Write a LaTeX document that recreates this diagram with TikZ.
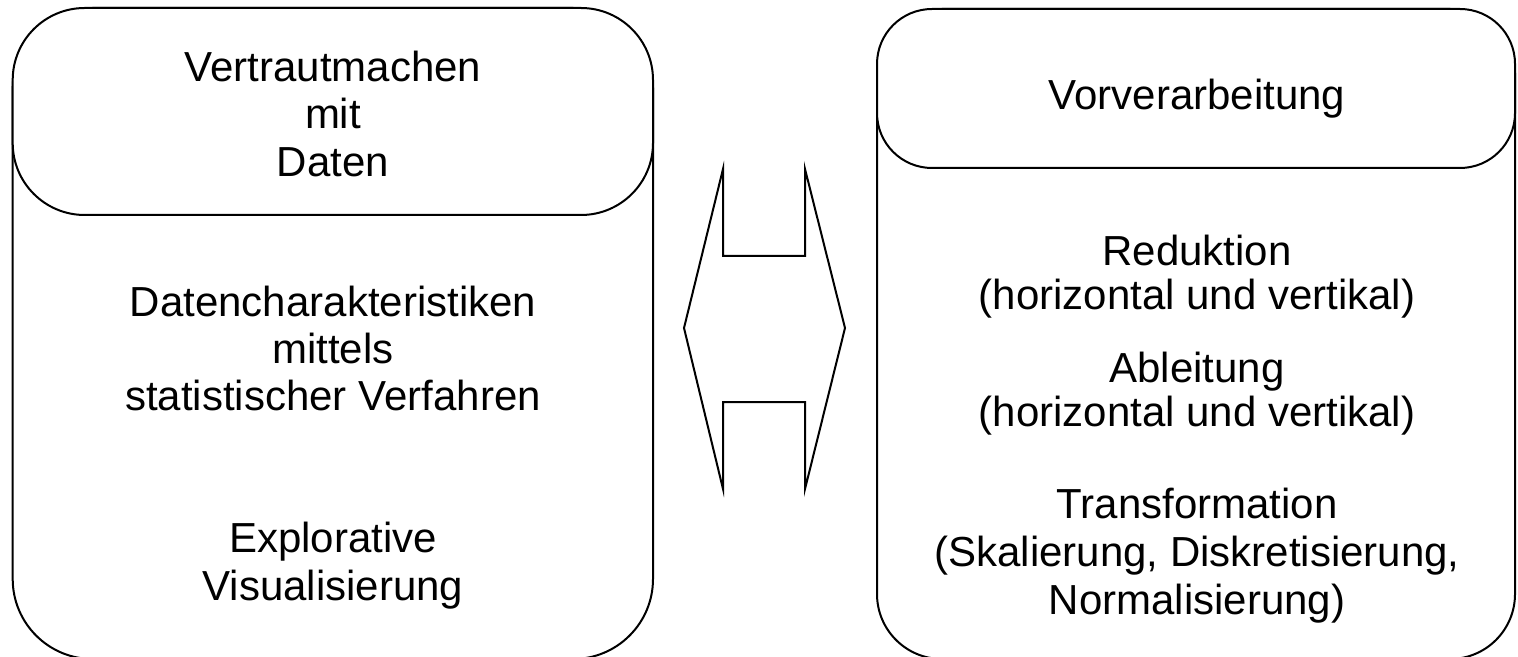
\documentclass[tikz,border=0pt]{standalone}
\usepackage{fontspec}
\setmainfont{Liberation Sans}
\begin{document}
\begin{tikzpicture}[x=0.5pt,y=-0.5pt]
\tikzset{
  boxframe/.style={draw=black, line width=1pt, fill=white, inner sep=0pt, outer sep=0pt, anchor=north west},
  lbl/.style={anchor=base, inner sep=0pt, font=\fontsize{21pt}{25.5pt}\selectfont},
  arrowshape/.style={draw=black, line width=1pt, line join=miter}
}
\useasboundingbox[fill=white] (0,0) rectangle (1518,657);
% left panel
\node[boxframe, rounded corners=40pt, minimum width=320.15pt, minimum height=325.5pt] (lout) at (12.7,8) {};
\node[boxframe, rounded corners=36pt, minimum width=320.15pt, minimum height=103.5pt] (lhead) at (12.7,8) {};
% right panel
\node[boxframe, rounded corners=32.5pt, minimum width=319pt, minimum height=325pt] (rout) at (877,9) {};
\node[boxframe, rounded corners=27.5pt, minimum width=319pt, minimum height=79.5pt] (rhead) at (877,9) {};
% left texts
\node[lbl] (l1) at (333,82) {Vertrautmachen};
\node[lbl] (l2) at (333,129) {mit};
\node[lbl] (l3) at (333,177) {Daten};
\node[lbl] (l4) at (333,316) {Datencharakteristiken};
\node[lbl] (l5) at (333,363) {mittels};
\node[lbl] (l6) at (333,410) {statistischer Verfahren};
\node[lbl] (l7) at (333,552) {Explorative};
\node[lbl] (l8) at (333,600) {Visualisierung};
% right texts
\node[lbl] (r1) at (1197,110) {Vorverarbeitung};
\node[lbl] (r2) at (1197,266) {Reduktion};
\node[lbl] (r3) at (1197,310) {(horizontal und vertikal)};
\node[lbl] (r4) at (1197,382) {Ableitung};
\node[lbl] (r5) at (1197,426) {(horizontal und vertikal)};
\node[lbl] (r6) at (1197,518) {Transformation};
\node[lbl] (r7) at (1197,566) {(Skalierung, Diskretisierung,};
\node[lbl] (r8) at (1197,614) {Normalisierung)};
% middle double arrow
\coordinate (m1) at (723,169);
\coordinate (m2) at (723,256);
\coordinate (m3) at (805,256);
\coordinate (m4) at (805,169);
\coordinate (m5) at (845,328);
\coordinate (m6) at (805,489);
\coordinate (m7) at (805,402);
\coordinate (m8) at (723,402);
\coordinate (m9) at (723,489);
\coordinate (m10) at (684,328);
\draw[arrowshape] (m1) -- (m2) -- (m3) -- (m4) -- (m5) -- (m6) -- (m7) -- (m8) -- (m9) -- (m10) -- cycle;
\end{tikzpicture}
\end{document}
